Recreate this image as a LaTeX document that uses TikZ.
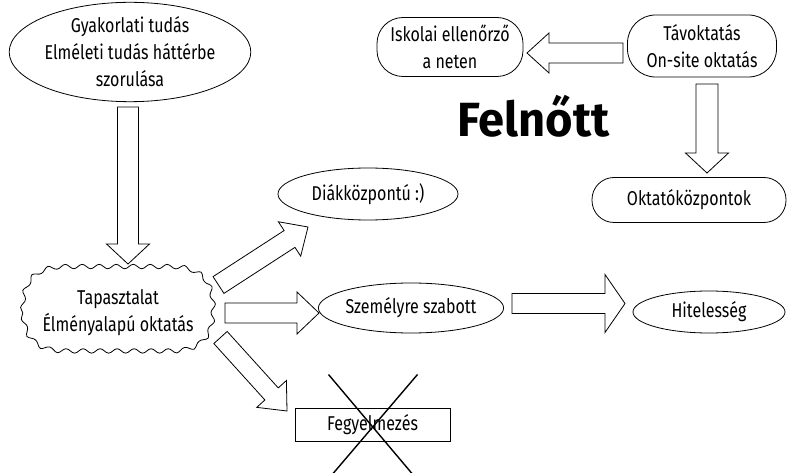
\documentclass[tikz,border=0pt]{standalone}
\usepackage{fontspec}
\setmainfont{Fira Sans}[FakeStretch=0.8]
\newfontfamily\titlefont{Fira Sans}[FakeStretch=0.98]
\usetikzlibrary{calc}
\usetikzlibrary{decorations.pathmorphing}
\usetikzlibrary{shapes}
\tikzset{
  every node/.style={font=\fontsize{20}{27}\selectfont, align=center, inner sep=0pt},
  bubble/.style={draw, ellipse, line width=0.8pt},
  pill/.style={draw, rectangle, rounded corners=#1, line width=0.8pt},
  cloudline/.style={draw, line width=0.8pt,
    decorate, decoration={snake, segment length=17pt, amplitude=2.2pt}},
  hollow/.style={draw, line width=0.8pt, line join=miter},
  crossout/.style={draw, line width=1.4pt}
}
% block arrow: from, to, half shaft, half head, head length
\newcommand{\hollowarrow}[5]{%
  \path ($(#2)!#5!(#1)$) coordinate (ha-h);
  \draw[hollow] ($(#1)!#3!90:(#2)$) -- ($(ha-h)!#3!90:(#2)$) -- ($(ha-h)!#4!90:(#2)$)
    -- (#2) -- ($(ha-h)!#4!-90:(#2)$) -- ($(ha-h)!#3!-90:(#2)$) -- ($(#1)!#3!-90:(#2)$) -- cycle;
}

\begin{document}
\begin{tikzpicture}[x=1pt, y=-1pt]
  \useasboundingbox (0,0) rectangle (793,473);

  % nodes
  \node[bubble, minimum width=240pt, minimum height=95pt] (gyak) at (130,52)
    {Gyakorlati tudás\\Elméleti tudás háttérbe\\szorulása};
  \node[minimum width=190pt, minimum height=84pt] (tap) at (118,313)
    {Tapasztalat\\Élményalapú oktatás};
  \node[bubble, minimum width=180pt, minimum height=52pt] (diak) at (368,194) {Diákközpontú :)};
  \node[bubble, minimum width=184pt, minimum height=50pt] (szem) at (411,308) {Személyre szabott};
  \node[bubble, minimum width=152pt, minimum height=42pt] (hitel) at (709,312) {Hitelesség};
  \node[draw, line width=0.8pt, minimum width=155pt, minimum height=33pt] (fegy) at (372.5,424.5) {Fegyelmezés};
  \node[pill=22pt, minimum width=194pt, minimum height=45pt] (okt) at (689,200) {Oktatóközpontok};
  \node[pill=28pt, minimum width=149pt, minimum height=62pt] (tav) at (702,46) {Távoktatás\\On-site oktatás};
  \node[pill=26pt, minimum width=146pt, minimum height=59pt] (isk) at (450,47) {Iskolai ellenőrző\\a neten};
  \node[anchor=base, font=\fontsize{48}{48}\titlefont\bfseries] (felnott) at (533.5,137) {Felnőtt};

  % wavy outline round tap
  \draw[cloudline] (tap.west)
    .. controls ($(tap.west)+(0,-28)$) and ($(tap.north west)+(12,0)$) .. ($(tap.north)+(-52,0)$)
    -- ($(tap.north)+(52,0)$)
    .. controls ($(tap.north east)+(-12,0)$) and ($(tap.east)+(0,-28)$) .. (tap.east)
    .. controls ($(tap.east)+(0,28)$) and ($(tap.south east)+(-12,0)$) .. ($(tap.south)+(52,0)$)
    -- ($(tap.south)+(-52,0)$)
    .. controls ($(tap.south west)+(12,0)$) and ($(tap.west)+(0,28)$) .. (tap.west);

  % arrow ends
  \coordinate (a1s) at (128,107);   \coordinate (a1e) at (128,264);
  \coordinate (a2s) at (218.5,285); \coordinate (a2e) at (308,227);
  \coordinate (a3s) at (225,313);   \coordinate (a3e) at (319,313);
  \coordinate (a4s) at (220.5,337.5); \coordinate (a4e) at (287,411);
  \coordinate (a5s) at (512,303.5); \coordinate (a5e) at (625,303.5);
  \coordinate (a6s) at (623,53);    \coordinate (a6e) at (527,53);
  \coordinate (a7s) at (707,84);    \coordinate (a7e) at (707,173);

  \hollowarrow{a1s}{a1e}{10.5pt}{21.5pt}{20pt}
  \hollowarrow{a2s}{a2e}{10pt}{20.5pt}{22pt}
  \hollowarrow{a3s}{a3e}{10pt}{21pt}{22pt}
  \hollowarrow{a4s}{a4e}{9pt}{20pt}{23pt}
  \hollowarrow{a5s}{a5e}{10pt}{29pt}{20pt}
  \hollowarrow{a6s}{a6e}{10pt}{20pt}{22pt}
  \hollowarrow{a7s}{a7e}{11pt}{21.5pt}{20pt}

  % crossed out
  \draw[crossout] ($(fegy.center)+(-44,-50)$) -- ($(fegy.center)+(42,52)$);
  \draw[crossout] ($(fegy.center)+(45,-50)$) -- ($(fegy.center)+(-42,52)$);
\end{tikzpicture}
\end{document}
